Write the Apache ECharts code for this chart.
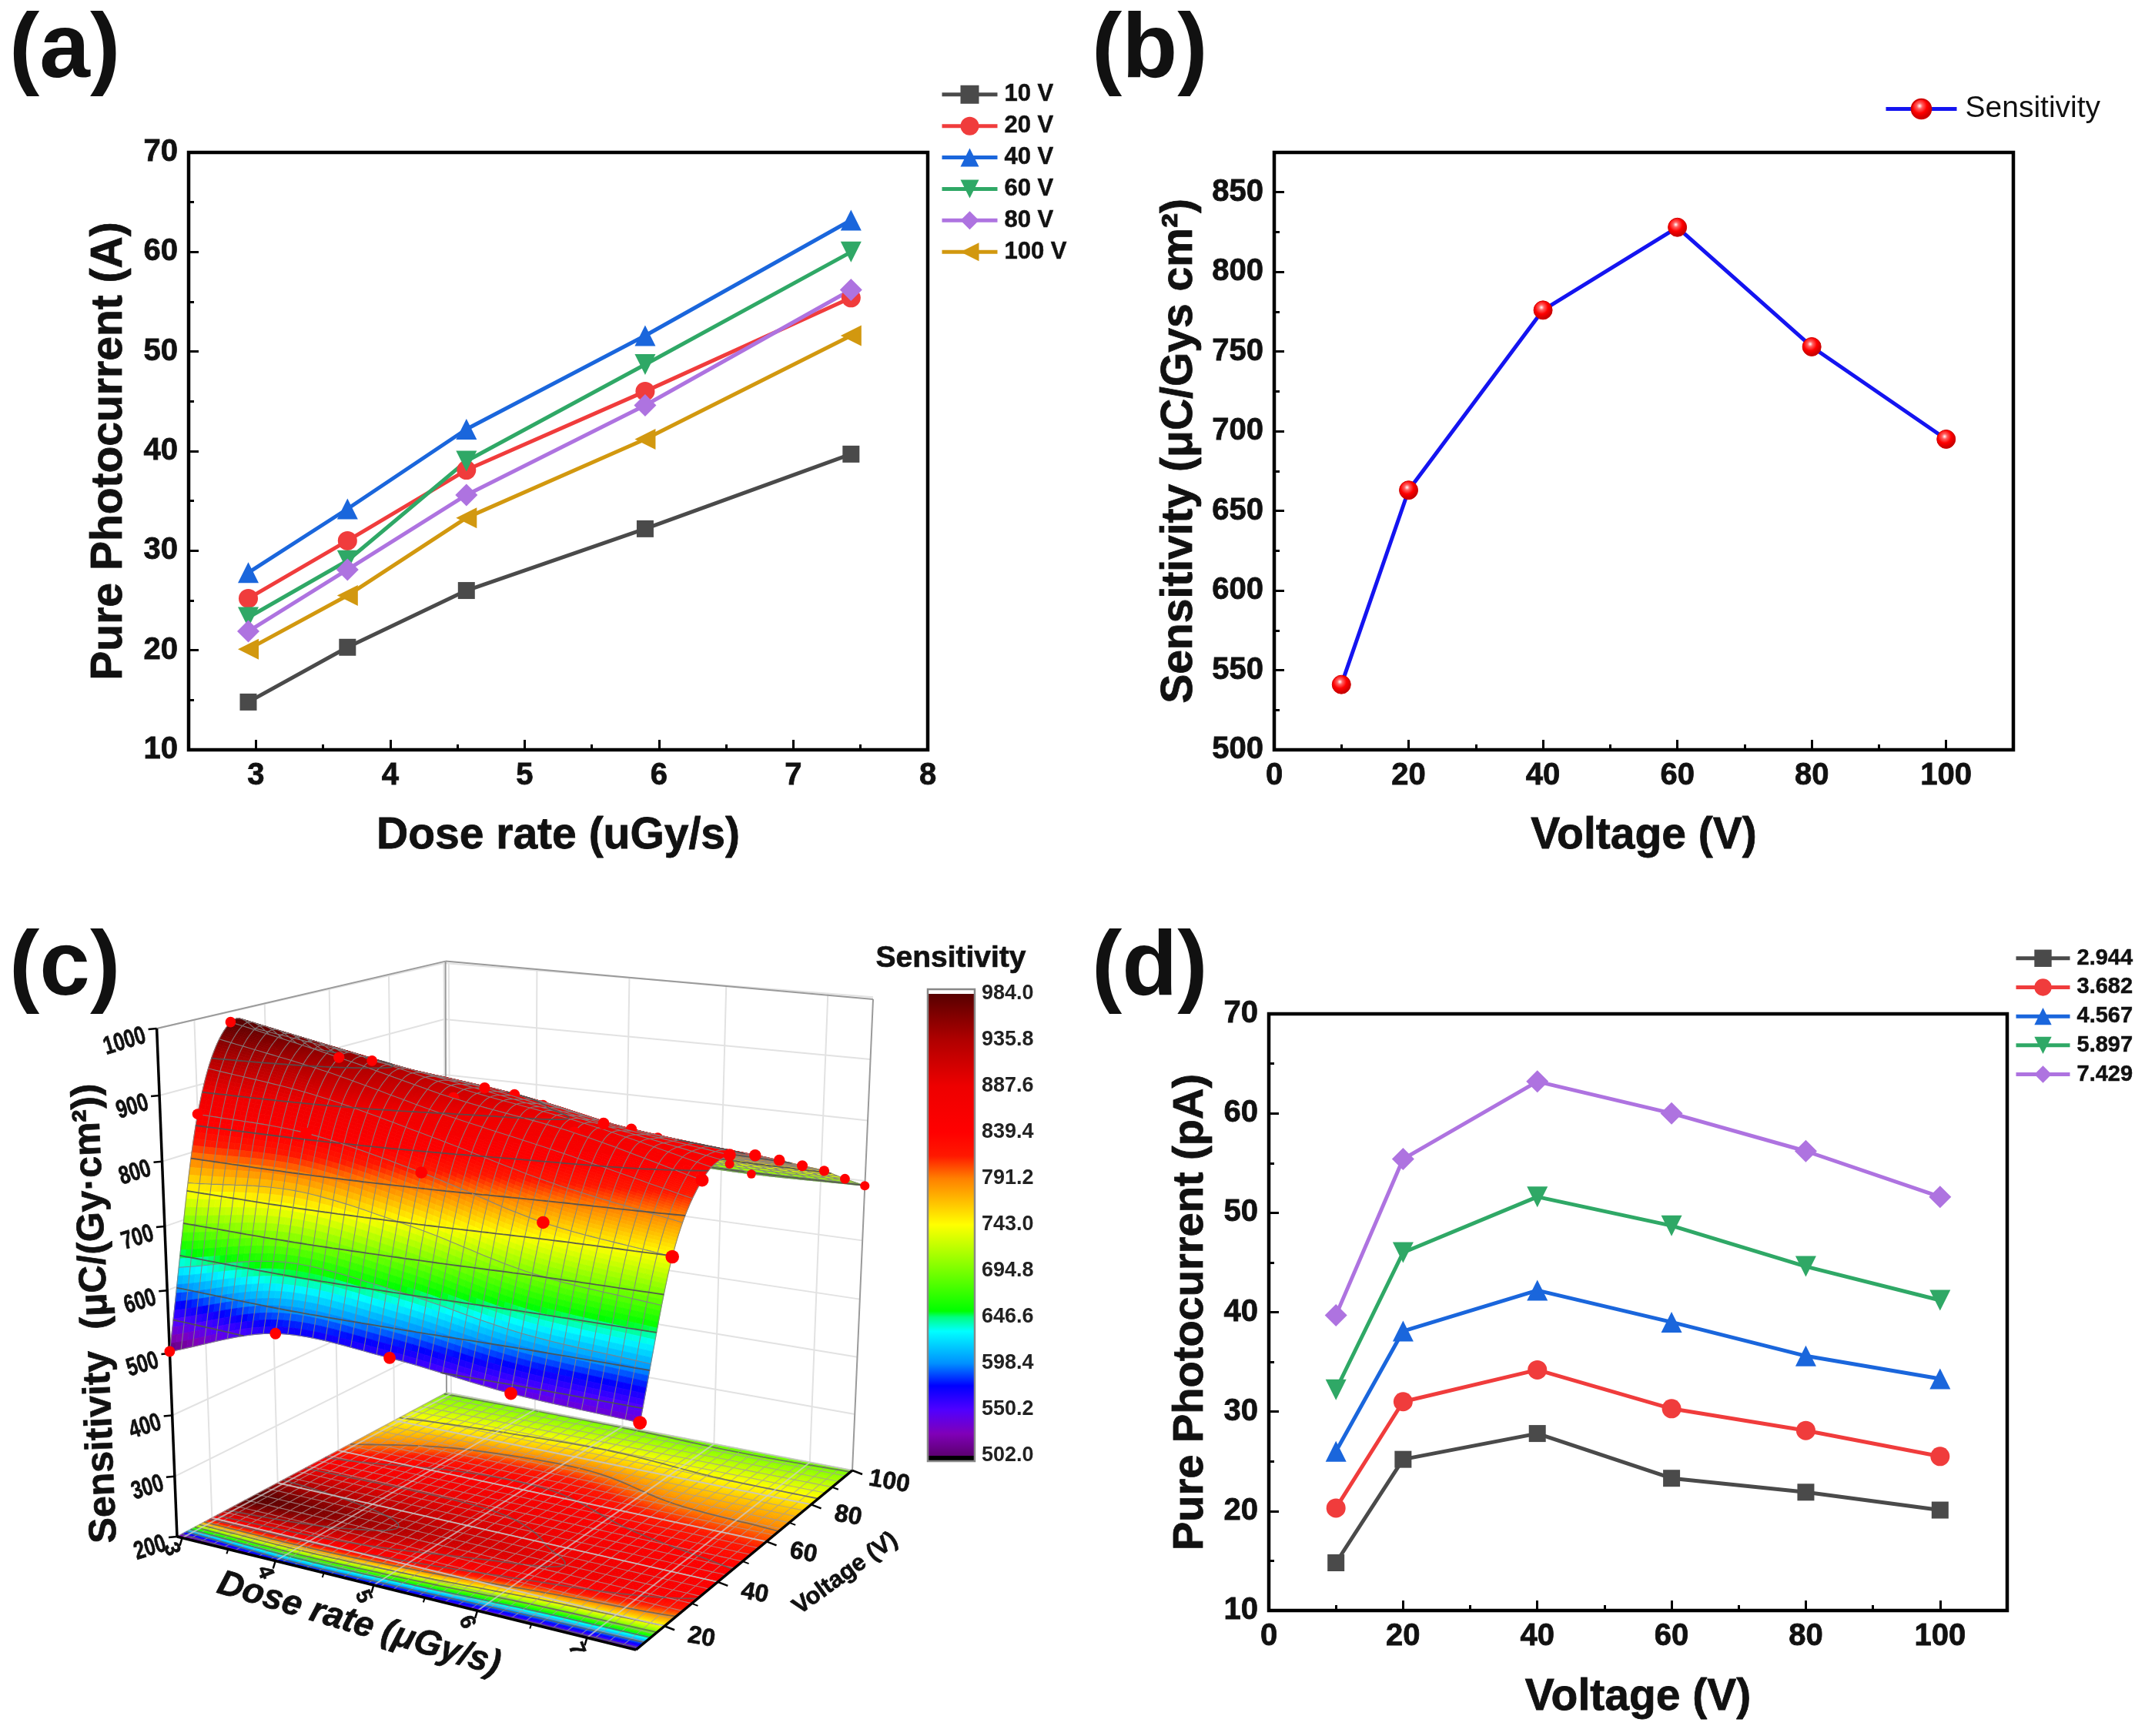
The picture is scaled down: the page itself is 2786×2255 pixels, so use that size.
<!DOCTYPE html>
<html>
<head>
<meta charset="utf-8">
<title>Photocurrent and sensitivity</title>
<style>html,body{margin:0;padding:0;background:#fff}#chart{width:2786px;height:2255px}</style>
<script src="https://cdn.jsdelivr.net/npm/echarts@6/dist/echarts.min.js"></script>
</head>
<body>
<div id="chart"></div>
<script>
// ---- panel (a): photocurrent against dose rate ----
const doseRates = [2.944, 3.682, 4.567, 5.897, 7.429];
const current10V = [14.8, 20.3, 26, 32.2, 39.7];
const current20V = [25.2, 31, 38.1, 46, 55.4];
const current40V = [27.8, 34.2, 42.2, 51.6, 63.2];
const current60V = [23.3, 29, 39, 48.7, 60];
const current80V = [21.9, 28.1, 35.6, 44.6, 56.2];
const current100V = [20.1, 25.5, 33.3, 41.2, 51.6];

// ---- panel (b): sensitivity against voltage ----
const voltages = [10, 20, 40, 60, 80, 100];
const sensitivity = [541, 663, 776, 828, 753, 695];

// ---- panel (d): photocurrent against voltage ----
const current2944 = [14.8, 25.2, 27.8, 23.3, 21.9, 20.1];
const current3682 = [20.3, 31, 34.2, 30.3, 28.1, 25.5];
const current4567 = [26, 38.1, 42.2, 39, 35.6, 33.3];
const current5897 = [32.2, 46, 51.6, 48.7, 44.6, 41.2];
const current7429 = [39.7, 55.4, 63.2, 60, 56.2, 51.6];

// ---- panel (c): sensitivity surface samples, one row per dose rate ----
const surfaceDoses = [2.944, 4.065, 5.187, 6.308, 7.429];
const surfaceVoltages = [10, 20, 30, 40, 50, 60, 70, 80, 90, 100];
const surfaceRow0 = [503, 856, 984, 945, 880, 810, 772, 748, 720, 692];
const surfaceRow1 = [563, 848, 947, 928, 885, 845, 805, 762, 725, 693];
const surfaceRow2 = [558, 812, 905, 905, 880, 848, 812, 770, 728, 692];
const surfaceRow3 = [539, 764, 875, 872, 847, 817, 785, 755, 723, 688];
const surfaceRow4 = [532, 742, 830, 848, 830, 805, 779, 753, 722, 692];
const surfaceRows = [surfaceRow0, surfaceRow1, surfaceRow2, surfaceRow3, surfaceRow4];

const doseTicks = [3, 4, 5, 6, 7];
const doseMinorTicks = [3.5, 4.5, 5.5, 6.5];
const voltTicks = [20, 40, 60, 80, 100];
const voltMinorTicks = [30, 50, 70, 90];
const zTicks = [200, 300, 400, 500, 600, 700, 800, 900, 1000];
const contourLevels = [550.2, 598.4, 646.6, 694.8, 743, 791.2, 839.4, 887.6, 935.8];

// colour ramp of the surface and its colour bar
const rampValues = [502, 525, 550, 575, 598.4, 632, 646.6, 653, 694.8, 743, 791.2, 815, 839.4, 887.6, 935.8, 984];
const rampColors = ['#5c0070', '#8000b8', '#5000ff', '#0000ff', '#0090ff', '#00ffff', '#00ff80', '#00ff00',
  '#78ff00', '#ffff00', '#ff8000', '#ff1800', '#ff0000', '#ee0000', '#b00000', '#580000'];

const FONT = '"Liberation Sans", Arial, sans-serif';

const hexToRgb = h => [1, 3, 5].map(i => parseInt(h.substr(i, 2), 16));
const rampRgb = rampColors.map(hexToRgb);
function colorOf(z) {
  const v = Math.min(984, Math.max(502, z));
  let i = 0;
  while (i < rampValues.length - 2 && v > rampValues[i + 1]) i++;
  const t = (v - rampValues[i]) / (rampValues[i + 1] - rampValues[i]);
  const a = rampRgb[i], b = rampRgb[i + 1];
  return 'rgb(' + Math.round(a[0] + (b[0] - a[0]) * t) + ',' + Math.round(a[1] + (b[1] - a[1]) * t) + ',' + Math.round(a[2] + (b[2] - a[2]) * t) + ')';
}

// ---- perspective box of panel (c), built from its corner positions on the page ----
const boxLeft = [230, 1996], boxFront = [826, 2143], boxRight = [1107, 1910], boxBack = [580, 1809];
const boxLeftTop = [203.6, 1336], boxRightTop = [1134, 1298], boxBackTop = [578.6, 1248.6];
const cam = (function () {
  const [x0, y0] = boxLeft, [x1, y1] = boxFront, [x2, y2] = boxRight, [x3, y3] = boxBack;
  const dx1 = x1 - x2, dx2 = x3 - x2, sx = x0 - x1 + x2 - x3;
  const dy1 = y1 - y2, dy2 = y3 - y2, sy = y0 - y1 + y2 - y3;
  const den = dx1 * dy2 - dx2 * dy1;
  const g = (sx * dy2 - dx2 * sy) / den, h = (dx1 * sy - sx * dy1) / den;
  const a = x1 - x0 + g * x1, b = x3 - x0 + h * x3, c = x0;
  const d = y1 - y0 + g * y1, e = y3 - y0 + h * y3, f = y0;
  const [Xl, Yl] = boxLeftTop, Xr = boxRightTop[0];
  const rr = (a + b - Xr * (g + h)) / (Xr - Xl);
  return { a, b, c, d, e, f, g, h, r: rr - 1, p: Xl * rr - c, q: Yl * rr - f };
})();
const doseMin = surfaceDoses[0], doseMax = surfaceDoses[4];
const voltMin = 10, voltMax = 100, zMin = 200, zMax = 1000;
function projectUnit(u, v, w) {
  const D = cam.g * u + cam.h * v + 1 + cam.r * w;
  return [(cam.a * u + cam.b * v + cam.c + cam.p * w) / D, (cam.d * u + cam.e * v + cam.f + cam.q * w) / D];
}
const toU = dose => (dose - doseMin) / (doseMax - doseMin);
const toV = volt => (volt - voltMin) / (voltMax - voltMin);
const toW = z => (z - zMin) / (zMax - zMin);
const project = (dose, volt, z) => projectUnit(toU(dose), toV(volt), toW(z));

// smooth surface through the samples, evaluated while a patch is drawn
function catmull(p, t) {
  const n = p.length, i = Math.min(n - 2, Math.floor(t)), s = t - i;
  const p1 = p[i], p2 = p[i + 1];
  const p0 = i > 0 ? p[i - 1] : 2 * p1 - p2, p3 = i + 2 < n ? p[i + 2] : 2 * p2 - p1;
  return 0.5 * (2 * p1 + (p2 - p0) * s + (2 * p0 - 5 * p1 + 4 * p2 - p3) * s * s + (3 * p1 - p0 - 3 * p2 + p3) * s * s * s);
}
function surfaceAt(rowPos, colPos) {
  return catmull(surfaceRows.map(row => catmull(row, colPos)), rowPos);
}

const DOSE_SUB = 18, DOSE_MESH = 2, V_MESH = 3;
const voltSub = col => (col < 2 ? 30 : 12);

function buildPatch(row, col, onFloor, meshStroke, contourStroke) {
  const nv = voltSub(col), pts = [], vals = [];
  for (let i = 0; i <= DOSE_SUB; i++) {
    pts.push([]); vals.push([]);
    for (let j = 0; j <= nv; j++) {
      const rp = row + i / DOSE_SUB, cp = col + j / nv;
      const z = surfaceAt(rp, cp);
      vals[i].push(z);
      pts[i].push(projectUnit(rp / 4, cp / 9, onFloor ? 0 : toW(z)));
    }
  }
  const children = [];
  // far strips first so the near part of the patch stays in front
  for (let j = nv - 1; j >= 0; j--) {
    for (let i = 0; i < DOSE_SUB; i++) {
      const c = colorOf((vals[i][j] + vals[i + 1][j] + vals[i][j + 1] + vals[i + 1][j + 1]) / 4);
      children.push({
        type: 'polygon', silent: true,
        shape: { points: [pts[i][j], pts[i + 1][j], pts[i + 1][j + 1], pts[i][j + 1]] },
        style: { fill: c, stroke: c, lineWidth: 0.8 }
      });
    }
  }
  let mesh = '';
  for (let i = 0; i <= DOSE_SUB; i += DOSE_MESH) {
    for (let j = 0; j <= nv; j++) mesh += (j ? 'L' : 'M') + pts[i][j][0].toFixed(1) + ' ' + pts[i][j][1].toFixed(1);
  }
  const step = nv / V_MESH;
  for (let j = 0; j <= nv; j += step) {
    for (let i = 0; i <= DOSE_SUB; i++) mesh += (i ? 'L' : 'M') + pts[i][j][0].toFixed(1) + ' ' + pts[i][j][1].toFixed(1);
  }
  children.push({ type: 'path', silent: true, shape: { pathData: mesh }, style: { fill: 'none', stroke: meshStroke, lineWidth: 1.1 } });

  let contour = '';
  for (const level of contourLevels) {
    for (let i = 0; i < DOSE_SUB; i++) {
      for (let j = 0; j < nv; j++) {
        const corners = [[i, j], [i + 1, j], [i + 1, j + 1], [i, j + 1]];
        const cross = [];
        for (let k = 0; k < 4; k++) {
          const A = corners[k], B = corners[(k + 1) % 4];
          const za = vals[A[0]][A[1]], zb = vals[B[0]][B[1]];
          if ((za < level) !== (zb < level)) {
            const t = (level - za) / (zb - za), pa = pts[A[0]][A[1]], pb = pts[B[0]][B[1]];
            cross.push([pa[0] + (pb[0] - pa[0]) * t, pa[1] + (pb[1] - pa[1]) * t]);
          }
        }
        if (cross.length >= 2) {
          contour += 'M' + cross[0][0].toFixed(1) + ' ' + cross[0][1].toFixed(1) + 'L' + cross[1][0].toFixed(1) + ' ' + cross[1][1].toFixed(1);
        }
      }
    }
  }
  if (contour) children.push({ type: 'path', silent: true, shape: { pathData: contour }, style: { fill: 'none', stroke: contourStroke, lineWidth: 1.8 } });
  return { type: 'group', children };
}

// ---- custom series items for panel (c) ----
// painter's order: far voltages first; each sample dot follows the strip just in front of it,
// except the ridge dots in the middle of the 30 V row, which the next strip partly buries
const buriedRows = [2, 3];
const surfaceItems = [];
const pushDot = (row, col) => surfaceItems.push([1, surfaceDoses[row], surfaceVoltages[col], surfaceRows[row][col]]);
for (let col = 8; col >= 0; col--) {
  if (col === 1) buriedRows.forEach(row => pushDot(row, 2));
  for (let row = 0; row < 4; row++) surfaceItems.push([0, row, col, 0]);
  const dotCol = col + 1;
  for (let row = 0; row < 5; row++) {
    if (!(dotCol === 2 && buriedRows.includes(row))) pushDot(row, dotCol);
  }
}
for (let row = 0; row < 5; row++) pushDot(row, 0);

function renderSurface(params, api) {
  if (api.value(0) === 0) return buildPatch(api.value(1), api.value(2), false, 'rgba(130,130,130,0.9)', 'rgba(80,80,80,0.9)');
  const P = project(api.value(1), api.value(2), api.value(3));
  const D = cam.g * toU(api.value(1)) + cam.h * toV(api.value(2)) + 1 + cam.r * toW(api.value(3));
  return { type: 'circle', silent: true, shape: { cx: P[0], cy: P[1], r: 6.6 / (D * D) }, style: { fill: '#ff0000' } };
}

const floorItems = [];
for (let col = 8; col >= 0; col--) for (let row = 0; row < 4; row++) floorItems.push([row, col]);
function renderFloor(params, api) {
  return buildPatch(api.value(0), api.value(1), true, 'rgba(165,155,155,0.75)', 'rgba(95,95,95,0.8)');
}

const line = (A, B, stroke, width) => ({ type: 'line', silent: true, shape: { x1: A[0], y1: A[1], x2: B[0], y2: B[1] }, style: { stroke, lineWidth: width } });
const label = (text, x, y, font, deg, align, squeeze) => ({
  type: 'text', x, y, rotation: deg * Math.PI / 180, scaleX: squeeze || 1, silent: true,
  style: { text, font, fill: '#111', stroke: '#111', lineWidth: 0.7, align: align || 'center', verticalAlign: 'middle', textAlign: align || 'center', textVerticalAlign: 'middle' }
});

// back walls and their grid lines
function renderWalls() {
  const grid = '#e2e2e2', children = [];
  for (const z of zTicks) {
    children.push(line(project(doseMin, voltMin, z), project(doseMin, voltMax, z), grid, 2));
    children.push(line(project(doseMin, voltMax, z), project(doseMax, voltMax, z), grid, 2));
  }
  for (const t of voltTicks) children.push(line(project(doseMin, t, zMin), project(doseMin, t, zMax), grid, 2));
  for (const t of doseTicks) children.push(line(project(t, voltMax, zMin), project(t, voltMax, zMax), grid, 2));
  const edge = '#9a9a9a';
  children.push(line(boxLeftTop, boxBackTop, edge, 2), line(boxBackTop, boxRightTop, edge, 2),
    line(boxBack, boxBackTop, edge, 2), line(boxRight, boxRightTop, edge, 2));
  return { type: 'group', children };
}

// grid on the projected map plus the black axes, ticks and titles in front
function renderAxes() {
  const children = [], floorGrid = 'rgba(205,205,205,0.75)';
  for (const t of doseTicks) children.push(line(project(t, voltMin, zMin), project(t, voltMax, zMin), floorGrid, 2));
  for (const t of voltTicks) children.push(line(project(doseMin, t, zMin), project(doseMax, t, zMin), floorGrid, 2));
  children.push(line(boxLeft, boxFront, '#000', 3.5), line(boxFront, boxRight, '#000', 3.5), line(boxLeft, boxLeftTop, '#000', 3.5));

  const fz = 'bold 33px ' + FONT, fd = 'bold 28px ' + FONT, fv = 'bold 32px ' + FONT;
  for (const z of zTicks) {
    const P = project(doseMin, voltMin, z);
    children.push(line(P, [P[0] - 11, P[1] + 1], '#000', 2.5));
    children.push(label(String(z), P[0] - 15, P[1] + 9, fz, 17, 'right', 0.76));
  }
  for (const t of doseTicks) {
    const P = project(t, voltMin, zMin);
    children.push(line(P, [P[0] - 3, P[1] + 10], '#000', 2.5));
    children.push(label(String(t), P[0] - 14, P[1] + 15, fd, -68));
  }
  for (const t of doseMinorTicks) {
    const P = project(t, voltMin, zMin);
    children.push(line(P, [P[0] - 2, P[1] + 6], '#000', 2));
  }
  for (const t of voltTicks) {
    const P = project(doseMax, t, zMin);
    children.push(line(P, [P[0] + 13, P[1] + 5], '#000', 2.5));
    children.push(label(String(t), P[0] + 48, P[1] + 15, fv, -10));
  }
  for (const t of voltMinorTicks) {
    const P = project(doseMax, t, zMin);
    children.push(line(P, [P[0] + 8, P[1] + 3], '#000', 2));
  }
  children.push(label('Dose rate (\u03bcGy/s)', 466, 2110, 'italic bold 46px ' + FONT, -16.5));
  children.push(label('Voltage (V)', 1098, 2044, 'bold 31px ' + FONT, 36));
  children.push(label('Sensitivity  (\u03bcC/(Gy\u00b7cm\u00b2))', 125, 1706, 'bold 50px ' + FONT, 92.3));
  children.push(label('Sensitivity', 1235, 1245, 'bold 39px ' + FONT, 0));
  return { type: 'group', children };
}

// colour bar: gradient from the ramp, with the white and black end caps
function renderBar(params, api) {
  const top = api.coord([0, 984]), bottom = api.coord([0, 502]), right = api.coord([1, 502]);
  const gradient = new echarts.graphic.LinearGradient(0, 0, 0, 1,
    rampValues.map((v, i) => ({ offset: (984 - v) / 482, color: rampColors[i] })).reverse());
  const x = top[0], w = right[0] - top[0];
  return {
    type: 'group', children: [
      { type: 'rect', silent: true, shape: { x, y: top[1] - 6, width: w, height: 6 }, style: { fill: '#fff' } },
      { type: 'rect', silent: true, shape: { x, y: top[1], width: w, height: bottom[1] - top[1] }, style: { fill: gradient } },
      { type: 'rect', silent: true, shape: { x, y: bottom[1], width: w, height: 7 }, style: { fill: '#000' } },
      { type: 'rect', silent: true, shape: { x, y: top[1] - 6, width: w, height: bottom[1] - top[1] + 13 }, style: { fill: 'none', stroke: '#888', lineWidth: 2.5 } }
    ]
  };
}

// ---- shared styling of the line panels ----
const heavy = { textBorderColor: '#111', textBorderWidth: 0.8 };
const tickFont = Object.assign({ fontFamily: FONT, fontWeight: 'bold', fontSize: 40, color: '#111' }, heavy);
const nameFont = size => Object.assign({ fontFamily: FONT, fontWeight: 'bold', fontSize: size, color: '#111' }, heavy);
function valueAxis(gridIndex, cfg) {
  return Object.assign({
    type: 'value', gridIndex, axisLine: { show: false }, splitLine: { show: false },
    axisTick: { inside: true, length: 13, lineStyle: { color: '#000', width: 3 } },
    minorTick: { show: true, splitNumber: 2, length: 7, lineStyle: { color: '#000', width: 3 } },
    axisLabel: Object.assign({ margin: 14 }, tickFont),
    nameLocation: 'middle', nameTextStyle: nameFont(57)
  }, cfg);
}
const markerStyles = [
  { symbol: 'rect', rotate: 0, size: 22 },
  { symbol: 'circle', rotate: 0, size: 25 },
  { symbol: 'triangle', rotate: 0, size: 27 },
  { symbol: 'triangle', rotate: 180, size: 27 },
  { symbol: 'diamond', rotate: 0, size: 29 },
  { symbol: 'triangle', rotate: 90, size: 27 }
];
function lineSeries(name, xs, ys, color, marker, axisIndex) {
  return {
    type: 'line', name, xAxisIndex: axisIndex, yAxisIndex: axisIndex, animation: false,
    data: xs.map((x, i) => [x, ys[i]]),
    symbol: marker.symbol, symbolRotate: marker.rotate, symbolSize: marker.size,
    lineStyle: { color, width: 5 }, itemStyle: { color }, z: 3
  };
}
const palette = ['#4a4a4a', '#f03c3c', '#1a66dc', '#2fa866', '#ae73e0', '#d2980f'];

const legendFont = size => Object.assign({ fontFamily: FONT, fontWeight: 'bold', fontSize: size, color: '#111', padding: [0, 0, 0, 4] }, { textBorderColor: '#111', textBorderWidth: 0.5 });

const option = {
  backgroundColor: '#fff',
  animation: false,
  title: [
    { text: '(a)', left: 12, top: 8 },
    { text: '(b)', left: 1418, top: 8 },
    { text: '(c)', left: 12, top: 1200 },
    { text: '(d)', left: 1418, top: 1200 }
  ].map(t => Object.assign(t, { padding: 0, textStyle: { fontFamily: FONT, fontWeight: 'bold', fontSize: 118, color: '#111' } })),
  grid: [
    { left: 245, top: 198, width: 960, height: 776 },
    { left: 1655, top: 198, width: 960, height: 776 },
    { left: 1648, top: 1317, width: 959, height: 775 },
    { left: 1205, top: 1291, width: 61, height: 600, show: false }
  ].map((g, i) => Object.assign(g, i < 3 ? { show: true, borderColor: '#000', borderWidth: 4.5 } : {})),
  legend: [
    { data: ['10 V', '20 V', '40 V', '60 V', '80 V', '100 V'], left: 1216, top: 102, orient: 'vertical', itemWidth: 72, itemHeight: 30, itemGap: 9.4, lineStyle: { width: 5 }, textStyle: legendFont(31) },
    { data: ['Sensitivity'], left: 2442, top: 117, orient: 'vertical', itemWidth: 92, itemHeight: 32, lineStyle: { width: 5 }, textStyle: { fontFamily: FONT, fontSize: 39, color: '#111', padding: [0, 0, 0, 6] } },
    { data: ['2.944', '3.682', '4.567', '5.897', '7.429'], left: 2611, top: 1225, orient: 'vertical', itemWidth: 70, itemHeight: 28, itemGap: 8.2, lineStyle: { width: 5 }, textStyle: legendFont(29) }
  ],
  xAxis: [
    valueAxis(0, { min: 2.5, max: 8, minorTick: { show: false }, name: 'Dose rate (uGy/s)', nameGap: 84,
      axisTick: { inside: true, length: 13, lineStyle: { color: '#000', width: 3 }, customValues: [3, 4, 5, 6, 7, 8] },
      axisLabel: Object.assign({ margin: 14, customValues: [3, 4, 5, 6, 7, 8] }, tickFont) }),
    valueAxis(1, { min: 0, max: 110, interval: 20, name: 'Voltage (V)', nameGap: 84, axisLabel: Object.assign({ margin: 14, showMaxLabel: false }, tickFont) }),
    valueAxis(2, { min: 0, max: 110, interval: 20, name: 'Voltage (V)', nameGap: 85, axisLabel: Object.assign({ margin: 14, showMaxLabel: false }, tickFont) }),
    { type: 'value', gridIndex: 3, min: 0, max: 1, show: false },
    // half-step ticks of panel (a)
    { type: 'value', gridIndex: 0, position: 'bottom', min: 2.5, max: 8, axisLine: { show: false }, axisLabel: { show: false }, splitLine: { show: false },
      axisTick: { inside: true, length: 7, lineStyle: { color: '#000', width: 3 }, customValues: [3.5, 4.5, 5.5, 6.5, 7.5] } }
  ],
  yAxis: [
    valueAxis(0, { min: 10, max: 70, interval: 10, name: 'Pure Photocurrent (A)', nameGap: 74 }),
    valueAxis(1, { min: 500, max: 875, interval: 50, name: 'Sensitivity (\u03bcC/Gys cm\u00b2)', nameGap: 94, nameTextStyle: nameFont(57), axisLabel: Object.assign({ margin: 14, showMaxLabel: false }, tickFont) }),
    valueAxis(2, { min: 10, max: 70, interval: 10, name: 'Pure Photocurrent (pA)', nameGap: 73, nameTextStyle: nameFont(56) }),
    { type: 'value', gridIndex: 3, min: 502, max: 984, interval: 48.2, position: 'right',
      axisLine: { show: false }, splitLine: { show: false },
      axisTick: { length: 14, lineStyle: { color: '#444', width: 2 } },
      axisLabel: { margin: 9, fontFamily: FONT, fontWeight: 'bold', fontSize: 27, color: '#222', formatter: v => v.toFixed(1) } }
  ],
  series: [
    lineSeries('10 V', doseRates, current10V, palette[0], markerStyles[0], 0),
    lineSeries('20 V', doseRates, current20V, palette[1], markerStyles[1], 0),
    lineSeries('40 V', doseRates, current40V, palette[2], markerStyles[2], 0),
    lineSeries('60 V', doseRates, current60V, palette[3], markerStyles[3], 0),
    lineSeries('80 V', doseRates, current80V, palette[4], markerStyles[4], 0),
    lineSeries('100 V', doseRates, current100V, palette[5], markerStyles[5], 0),
    {
      type: 'line', name: 'Sensitivity', xAxisIndex: 1, yAxisIndex: 1, animation: false, z: 3,
      data: voltages.map((v, i) => [v, sensitivity[i]]),
      symbol: 'circle', symbolSize: 24,
      lineStyle: { color: '#1414f0', width: 5 },
      itemStyle: {
        color: new echarts.graphic.RadialGradient(0.42, 0.36, 0.62, [
          { offset: 0, color: '#ffffff' }, { offset: 0.22, color: '#ff6060' }, { offset: 0.55, color: '#ff0000' }, { offset: 1, color: '#c00000' }
        ]),
        borderColor: '#d00000', borderWidth: 1
      }
    },
    lineSeries('2.944', voltages, current2944, palette[0], markerStyles[0], 2),
    lineSeries('3.682', voltages, current3682, palette[1], markerStyles[1], 2),
    lineSeries('4.567', voltages, current4567, palette[2], markerStyles[2], 2),
    lineSeries('5.897', voltages, current5897, palette[3], markerStyles[3], 2),
    lineSeries('7.429', voltages, current7429, palette[4], markerStyles[4], 2),
    { type: 'custom', name: 'walls', coordinateSystem: 'none', data: [[0]], renderItem: renderWalls, silent: true, z: 2, animation: false },
    { type: 'custom', name: 'map', coordinateSystem: 'none', data: floorItems, renderItem: renderFloor, silent: true, z: 3, animation: false, progressive: 0 },
    { type: 'custom', name: 'axes3d', coordinateSystem: 'none', data: [[0]], renderItem: renderAxes, silent: true, z: 4, animation: false },
    { type: 'custom', name: 'surface', coordinateSystem: 'none', data: surfaceItems, renderItem: renderSurface, silent: true, z: 5, animation: false, progressive: 0 },
    { type: 'custom', name: 'colorbar', coordinateSystem: 'cartesian2d', xAxisIndex: 3, yAxisIndex: 3, data: [[0, 502]], renderItem: renderBar, silent: true, clip: false, z: 3, animation: false }
  ]
};

const chart = echarts.init(document.getElementById('chart'), null, { renderer: 'canvas', width: 2786, height: 2255 });
chart.setOption(option);
</script>
</body>
</html>
